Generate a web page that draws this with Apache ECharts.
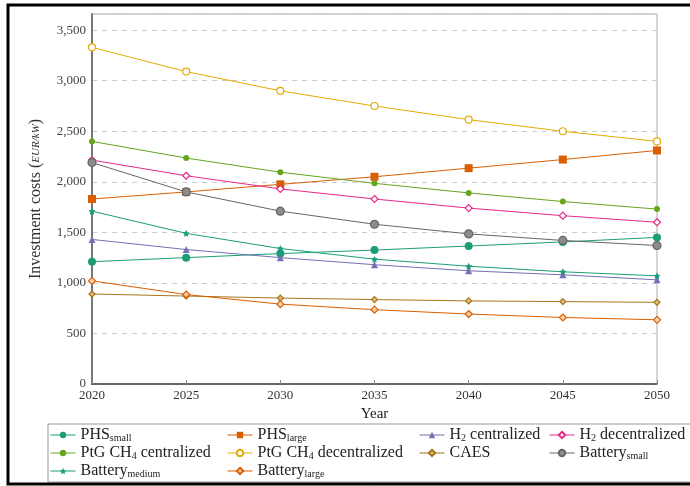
<!DOCTYPE html>
<html>
<head>
<meta charset="utf-8">
<script src="https://cdn.jsdelivr.net/npm/echarts@6/dist/echarts.min.js"></script>
<style>
  html, body { margin: 0; padding: 0; background: #fff; }
  #chart { width: 690px; height: 486px; }
</style>
</head>
<body>
<div id="chart"></div>
<script>
// values (EUR/kW)
const years = [2020, 2025, 2030, 2035, 2040, 2045, 2050];
const phsSmall = [1210, 1250, 1290, 1325, 1365, 1405, 1450];
const phsLarge = [1830, 1900, 1975, 2050, 2135, 2220, 2310];
const h2Central = [1430, 1330, 1250, 1180, 1120, 1080, 1030];
const h2Decentral = [2215, 2060, 1930, 1830, 1740, 1665, 1600];
const ptgCentral = [2400, 2235, 2095, 1985, 1890, 1805, 1730];
const ptgDecentral = [3330, 3090, 2900, 2750, 2615, 2500, 2400];
const caes = [890, 870, 850, 835, 822, 815, 808];
const batterySmall = [2190, 1900, 1710, 1580, 1485, 1420, 1370];
const batteryMedium = [1710, 1490, 1340, 1235, 1165, 1110, 1070];
const batteryLarge = [1020, 885, 790, 735, 692, 658, 635];
const yTicks = [0, 500, 1000, 1500, 2000, 2500, 3000, 3500];

const FONT = "Liberation Serif";
const star = "path://M0,-10L2.9,-4L9.5,-3.1L4.8,1.5L5.9,8.1L0,5L-5.9,8.1L-4.8,1.5L-9.5,-3.1L-2.9,-4Z";

// name, legend label (rich), data, colour, symbol, size, fill
const defs = [
  ["PHS_small", "PHS{s|small}", phsSmall, "#1b9e77", "circle", 8, null],
  ["PHS_large", "PHS{s|large}", phsLarge, "#d95f02", "rect", 8, null],
  ["H2 centralized", "H{s|2} centralized", h2Central, "#7570b3", "triangle", 7, null],
  ["H2 decentralized", "H{s|2} decentralized", h2Decentral, "#e7298a", "diamond", 7, "#fff"],
  ["PtG CH4 centralized", "PtG CH{s|4} centralized", ptgCentral, "#66a61e", "circle", 6, null],
  ["PtG CH4 decentralized", "PtG CH{s|4} decentralized", ptgDecentral, "#e6ab02", "circle", 7, "#fff"],
  ["CAES", "CAES", caes, "#a6761d", "diamond", 6, "#dcbb7a"],
  ["Battery_small", "Battery{s|small}", batterySmall, "#666666", "circle", 8, "#8c8c8c"],
  ["Battery_medium", "Battery{s|medium}", batteryMedium, "#1b9e77", star, 7, null],
  ["Battery_large", "Battery{s|large}", batteryLarge, "#d95f02", "diamond", 7, "#fbd3b3"]
];

const series = defs.map(d => ({
  name: d[0],
  type: "line",
  data: years.map((y, i) => [y, d[2][i]]),
  symbol: d[4],
  symbolSize: d[5],
  showAllSymbol: true,
  lineStyle: { color: d[3], width: 1 },
  itemStyle: { color: d[6] || d[3], borderColor: d[3], borderWidth: d[6] ? 1.2 : 0 },
  emphasis: { disabled: true },
  z: 3
}));

const labelMap = {};
defs.forEach(d => { labelMap[d[0]] = d[1]; });

// legend grid: 4 columns, 3 rows
const colX = [50, 227, 419, 549];
const rowY = [427, 445, 463];
const legends = defs.map((d, i) => ({
  data: [d[0]],
  left: colX[i % 4],
  top: rowY[Math.floor(i / 4)],
  padding: 0,
  itemWidth: 25,
  itemHeight: 8,
  itemGap: 5,
  selectedMode: false,
  lineStyle: { width: 1 },
  formatter: n => labelMap[n],
  textStyle: {
    fontFamily: FONT, fontSize: 16, color: "#222",
    rich: { s: { fontFamily: FONT, fontSize: 10, color: "#222", verticalAlign: "bottom", padding: [6, 0, 0, 0] } }
  }
}));

const chart = echarts.init(document.getElementById("chart"));
chart.setOption({
  animation: false,
  backgroundColor: "#fff",
  grid: { left: 92, right: 33, top: 14, bottom: 102, show: true, borderColor: "#aaa", borderWidth: 1 },
  xAxis: {
    type: "value", min: 2020, max: 2050, interval: 5,
    name: "Year", nameLocation: "middle", nameGap: 22,
    nameTextStyle: { fontFamily: FONT, fontSize: 15, color: "#222" },
    axisLine: { lineStyle: { color: "#444", width: 1.5 } },
    axisTick: { inside: true, length: 4, lineStyle: { color: "#888" } },
    axisLabel: { fontFamily: FONT, fontSize: 13, color: "#333", margin: 5, formatter: v => String(v) },
    splitLine: { show: false }
  },
  yAxis: {
    type: "value", min: 0, max: 3660, interval: 500,
    name: "Investment costs ({i|EUR/kW})", nameLocation: "middle", nameGap: 48,
    nameTextStyle: { fontFamily: FONT, fontSize: 16, color: "#333",
      rich: { i: { fontFamily: FONT, fontStyle: "italic", fontSize: 11, color: "#333" } } },
    axisLine: { show: true, lineStyle: { color: "#777", width: 2 } },
    axisTick: { show: false },
    axisLabel: { fontFamily: FONT, fontSize: 13, color: "#444", margin: 6, showMaxLabel: false,
      formatter: v => yTicks.includes(v) ? v.toLocaleString("en-US") : "" },
    splitLine: { lineStyle: { color: "#ccc", type: [5, 5], width: 1 } }
  },
  legend: legends,
  graphic: [
    { type: "rect", shape: { x: 48, y: 424, width: 700, height: 58 },
      style: { fill: "none", stroke: "#999", lineWidth: 1 }, z: 0 },
    { type: "rect", shape: { x: 8, y: 5, width: 700, height: 479 },
      style: { fill: "none", stroke: "#000", lineWidth: 3 }, z: 10 }
  ],
  series: series
});
</script>
</body>
</html>
